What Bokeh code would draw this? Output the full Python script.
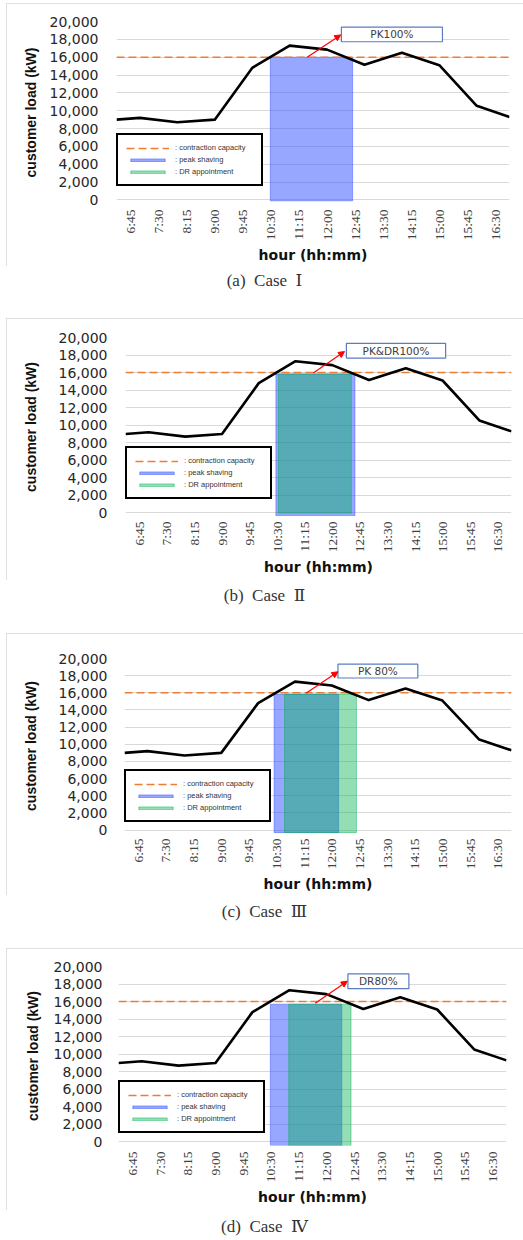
from bokeh.plotting import figure
from bokeh.layouts import column
from bokeh.models import (ColumnDataSource, Range1d, FixedTicker, NumeralTickFormatter,
                          BoxAnnotation, Label, Arrow, NormalHead, Legend, LegendItem, Div, Spacer)
from bokeh.embed import file_html
from bokeh.resources import INLINE

# ---------------- data ----------------
hour_labels = ["6:45", "7:30", "8:15", "9:00", "9:45", "10:30", "11:15",
               "12:00", "12:45", "13:30", "14:15", "15:00", "15:45", "16:30"]
load_times = ["6:22:30", "7:00", "8:00", "9:00", "10:00", "11:00", "12:00",
              "13:00", "14:00", "15:00", "16:00", "16:52:30"]
load_kw = [9000, 9200, 8700, 9000, 14800, 17300, 16850, 15150, 16500, 15100, 10550, 9300]
contract_kw = 16000
y_max = 20000
y_step = 2000
y_floor = -400

case_letters = ["(a)", "(b)", "(c)", "(d)"]
case_numerals = ["\u2160", "\u2161", "\u2162", "\u2163"]
peak_start = ["10:29", "10:28", "10:26", "10:29"]
peak_end = ["12:41", "12:37", "12:11", "12:25"]
peak_top = [16000, 15850, 15850, 15700]
peak_bottom = [-100, -300, -300, -400]
dr_start = [None, "10:32", "10:43", "10:59"]
dr_end = [None, "12:31", "12:40", "12:40"]
dr_top = [None, 15850, 15850, 15700]
dr_bottom = [None, 0, -300, -400]
tag_text = ["PK100%", "PK&DR100%", "PK 80%", "DR80%"]
tag_left = ["12:23", "12:23", "12:10", "12:35"]
tag_right = ["15:05", "15:05", "14:20", "14:14"]
tag_bottom = [17730, 17650, 17725, 17470]
tag_top = [19360, 19320, 19350, 19170]
arrow_from_time = ["11:28", "11:29", "11:18", "11:42"]
arrow_from_kw = [16000, 15950, 15950, 15800]
arrow_to_time = ["12:22", "12:20", "12:10", "12:34"]
arrow_to_kw = [18500, 18400, 18450, 18330]

legend_labels = [": contraction capacity", ": peak shaving", ": DR appointment"]

# ---------------- layout / style ----------------
FIG_W = 517
LEFT_GAP = 6
fig_h = [263, 262, 262, 262]
mb_top = [18, 19, 25, 18]
mb_bottom = [62, 64, 61, 65]
mb_left = [110, 119, 118, 112]
mb_right = [14, 12, 12, 17]
xtick_standoff = [6, 5, 5, 6]
xlabel_standoff = [4, 4, 4, 4]
ytick_standoff = [18, 18, 17, 16]
ylabel_standoff = [8, 17, 17, 10]
legend_xy = [(0, 17), (0, 17), (0, 11), (0, 12)]
cap_h = [52, 53, 53, 28]
cap_shift = [5, 6, 7, 7]

ORANGE = "#ED7D31"
BLUE = "#3050FF"
GREEN = "#00B050"
NAN = float("nan")


def to_min(s):
    parts = [float(v) for v in s.split(":")]
    m = parts[0] * 60 + parts[1]
    if len(parts) > 2:
        m += parts[2] / 60.0
    return m


tick_min = [to_min(s) for s in hour_labels]
half = (tick_min[1] - tick_min[0]) / 2.0
x_lo, x_hi = tick_min[0] - half, tick_min[-1] + half
y_ticks = list(range(0, y_max + 1, y_step))
load_x = [to_min(s) for s in load_times]

panels = [Spacer(width=FIG_W + LEFT_GAP, height=3)]
for i in range(4):
    p = figure(width=FIG_W, height=fig_h[i], margin=(0, 0, 0, LEFT_GAP),
               x_range=Range1d(x_lo, x_hi), y_range=Range1d(y_floor, y_max),
               output_backend="svg", toolbar_location=None,
               min_border_left=mb_left[i], min_border_right=mb_right[i],
               min_border_top=mb_top[i], min_border_bottom=mb_bottom[i])
    p.outline_line_color = None
    p.background_fill_color = "white"
    p.border_fill_color = "white"
    p.styles = {"outline": "1px solid #d6d6d6", "outline-offset": "-1px"}

    # axes
    p.xaxis.ticker = FixedTicker(ticks=tick_min)
    p.xaxis.major_label_overrides = {t: lab for t, lab in zip(tick_min, hour_labels)}
    p.xaxis.major_label_orientation = 1.5707963267948966
    p.xaxis.major_label_text_font = "Liberation Serif"
    p.xaxis.major_label_text_font_size = "13.5px"
    p.xaxis.major_label_text_color = "#404040"
    p.xaxis.major_label_standoff = xtick_standoff[i]
    p.xaxis.axis_label = "hour (hh:mm)"
    p.xaxis.axis_label_text_font = "DejaVu Sans"
    p.xaxis.axis_label_text_font_style = "bold"
    p.xaxis.axis_label_text_font_size = "14px"
    p.xaxis.axis_label_text_color = "#111111"
    p.xaxis.axis_label_standoff = xlabel_standoff[i]

    p.yaxis.ticker = FixedTicker(ticks=y_ticks)
    p.yaxis.formatter = NumeralTickFormatter(format="0,0")
    p.yaxis.major_label_text_font = "DejaVu Sans"
    p.yaxis.major_label_text_font_size = "14px"
    p.yaxis.major_label_text_color = "#262626"
    p.yaxis.major_label_standoff = ytick_standoff[i]
    p.yaxis.axis_label = "customer load (kW)"
    p.yaxis.axis_label_text_font = "Liberation Sans"
    p.yaxis.axis_label_text_font_style = "bold"
    p.yaxis.axis_label_text_font_size = "14px"
    p.yaxis.axis_label_text_color = "#111111"
    p.yaxis.axis_label_standoff = ylabel_standoff[i]

    for ax in (p.xaxis, p.yaxis):
        ax.axis_line_color = None
        ax.major_tick_line_color = None
        ax.minor_tick_line_color = None
        ax.major_tick_out = 0
        ax.major_tick_in = 0
        ax.minor_tick_out = 0
        ax.minor_tick_in = 0

    p.xgrid.visible = False
    p.ygrid.ticker = FixedTicker(ticks=y_ticks)
    p.ygrid.grid_line_color = "#d9d9d9"
    p.ygrid.grid_line_width = 1

    # shaded periods
    peak_src = ColumnDataSource(dict(left=[to_min(peak_start[i])], right=[to_min(peak_end[i])],
                                     bottom=[peak_bottom[i]], top=[peak_top[i]]))
    if dr_start[i] is None:
        dr_src = ColumnDataSource(dict(left=[NAN], right=[NAN], bottom=[NAN], top=[NAN]))
    else:
        dr_src = ColumnDataSource(dict(left=[to_min(dr_start[i])], right=[to_min(dr_end[i])],
                                       bottom=[dr_bottom[i]], top=[dr_top[i]]))
    r_peak = p.quad(left="left", right="right", bottom="bottom", top="top", source=peak_src,
                    fill_color=BLUE, fill_alpha=0.5, line_color=BLUE, line_alpha=0.45, line_width=1)
    r_dr = p.quad(left="left", right="right", bottom="bottom", top="top", source=dr_src,
                  fill_color=GREEN, fill_alpha=0.42, line_color=GREEN, line_alpha=0.45, line_width=1)

    # contract capacity across the whole time range
    r_cap = p.line(x=[x_lo, x_hi], y=[contract_kw, contract_kw], line_color=ORANGE,
                   line_dash="8 4", line_width=1.5)

    # load curve
    p.line(x=load_x, y=load_kw, line_color="black", line_width=2.6, line_join="round")

    # tag box + arrow
    p.add_layout(BoxAnnotation(left=to_min(tag_left[i]), right=to_min(tag_right[i]),
                               bottom=tag_bottom[i], top=tag_top[i],
                               fill_color="white", fill_alpha=1.0,
                               line_color="#5B7DBF", line_width=1.2, line_alpha=1.0))
    p.add_layout(Label(x=(to_min(tag_left[i]) + to_min(tag_right[i])) / 2.0,
                       y=(tag_bottom[i] + tag_top[i]) / 2.0, text=tag_text[i],
                       text_align="center", text_baseline="middle",
                       text_font="DejaVu Sans", text_font_size="10.5px", text_color="#404040"))
    p.add_layout(Arrow(x_start=to_min(arrow_from_time[i]), y_start=arrow_from_kw[i],
                       x_end=to_min(arrow_to_time[i]), y_end=arrow_to_kw[i],
                       line_color="red", line_width=1.2,
                       end=NormalHead(size=6, fill_color="red", line_color="red")))

    # legend
    legend = Legend(items=[LegendItem(label=legend_labels[0], renderers=[r_cap]),
                           LegendItem(label=legend_labels[1], renderers=[r_peak]),
                           LegendItem(label=legend_labels[2], renderers=[r_dr])],
                    location=legend_xy[i], orientation="vertical",
                    border_line_color="black", border_line_width=2, border_line_alpha=1.0,
                    background_fill_color="white", background_fill_alpha=1.0,
                    padding=8, spacing=3, margin=0,
                    glyph_width=43, glyph_height=4, label_height=9, label_width=78,
                    label_standoff=6, label_text_font="Liberation Sans",
                    label_text_font_size="7.5px", label_text_color="#333333")
    p.add_layout(legend)

    cap_html = ('<div style="position:relative; top:%dpx; width:%dpx; text-align:center; '
                'font-family:\'Liberation Serif\',\'DejaVu Serif\',serif; font-size:17px; '
                'line-height:20px; color:#333333;">%s&nbsp;&nbsp;Case&nbsp;&nbsp;%s</div>'
                % (cap_shift[i], FIG_W, case_letters[i], case_numerals[i]))
    cap = Div(text=cap_html, width=FIG_W, height=cap_h[i], margin=(0, 0, 0, LEFT_GAP))
    # each panel in its own sub-column so that plot frames are not aligned across panels
    panels.append(column(p, cap, spacing=0))

layout = column(panels, spacing=0)
open("out.html", "w").write(file_html(layout, INLINE))
